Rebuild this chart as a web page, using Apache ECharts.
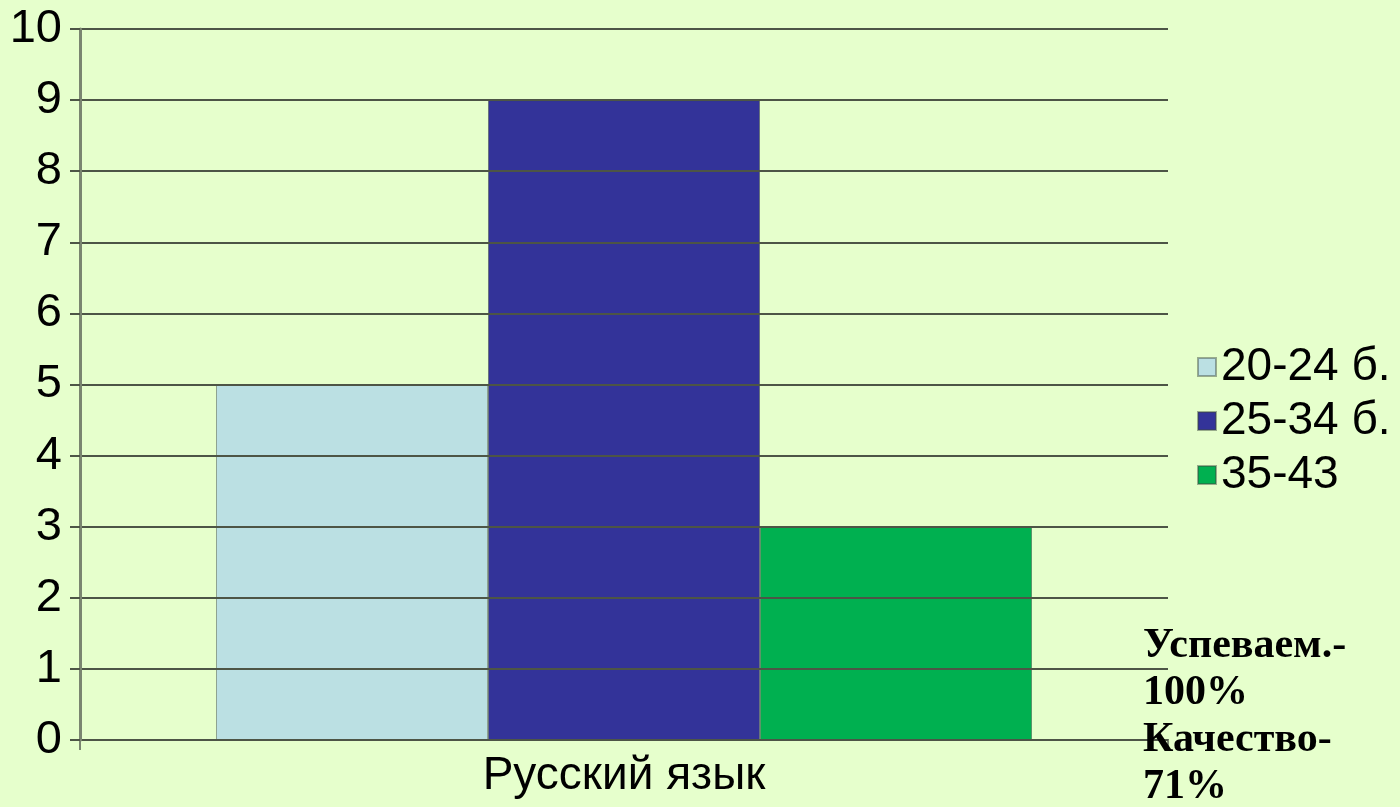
<!DOCTYPE html>
<html><head><meta charset="utf-8">
<script src="https://cdn.jsdelivr.net/npm/echarts@6/dist/echarts.min.js"></script>
<style>html,body{margin:0;padding:0;background:#e6ffcc;}#c{width:1400px;height:807px;}</style>
</head><body><div id="c"></div>
<script>
const categories = ['Русский язык'];
const seriesNames = ['20-24 б.', '25-34 б.', '35-43'];
const seriesValues = [[5], [9], [3]];
const seriesColors = ['#bbe0e3', '#333399', '#00b050'];
const noteLines = ['Успеваем.-', '100%', 'Качество-', '71%'];

const chart = echarts.init(document.getElementById('c'));
chart.setOption({
  backgroundColor: '#e6ffcc',
  animation: false,
  grid: {left: 80, right: 232, top: 29, bottom: 67, containLabel: false},
  legend: {
    orient: 'vertical', left: 1192, top: 335,
    itemWidth: 18, itemHeight: 18, itemGap: 0,
    icon: 'rect',
    textStyle: {fontFamily: 'Liberation Sans', fontSize: 46, lineHeight: 54, color: '#000'},
    data: seriesNames
  },
  xAxis: {
    type: 'category', data: categories,
    axisLine: {lineStyle: {color: '#3d4536', width: 2}},
    axisTick: {show: true, length: 10, lineStyle: {color: '#7a8570', width: 2}},
    axisLabel: {fontFamily: 'Liberation Sans', fontSize: 46, color: '#000', margin: 13}
  },
  yAxis: {
    type: 'value', min: 0, max: 10, interval: 1, z: 5,
    axisLine: {show: true, lineStyle: {color: '#7a8570', width: 3}},
    axisTick: {show: true, length: 10, lineStyle: {color: '#4d5546', width: 2}},
    axisLabel: {fontFamily: 'Liberation Sans', fontSize: 47, color: '#000', margin: 18},
    splitLine: {show: true, lineStyle: {color: '#4d5546', width: 2}}
  },
  series: seriesNames.map((n, i) => ({
    name: n, type: 'bar', data: seriesValues[i],
    barGap: '0%', barCategoryGap: '25%',
    itemStyle: {color: seriesColors[i], borderColor: 'rgba(60,70,60,0.45)', borderWidth: 1}
  })),
  graphic: [{
    type: 'text', left: 1143, top: 623, z: 10,
    style: {
      text: noteLines.join('\n'),
      font: 'bold 42px "Liberation Serif", "DejaVu Serif", serif',
      lineHeight: 47, fill: '#000'
    }
  }]
});
</script></body></html>
